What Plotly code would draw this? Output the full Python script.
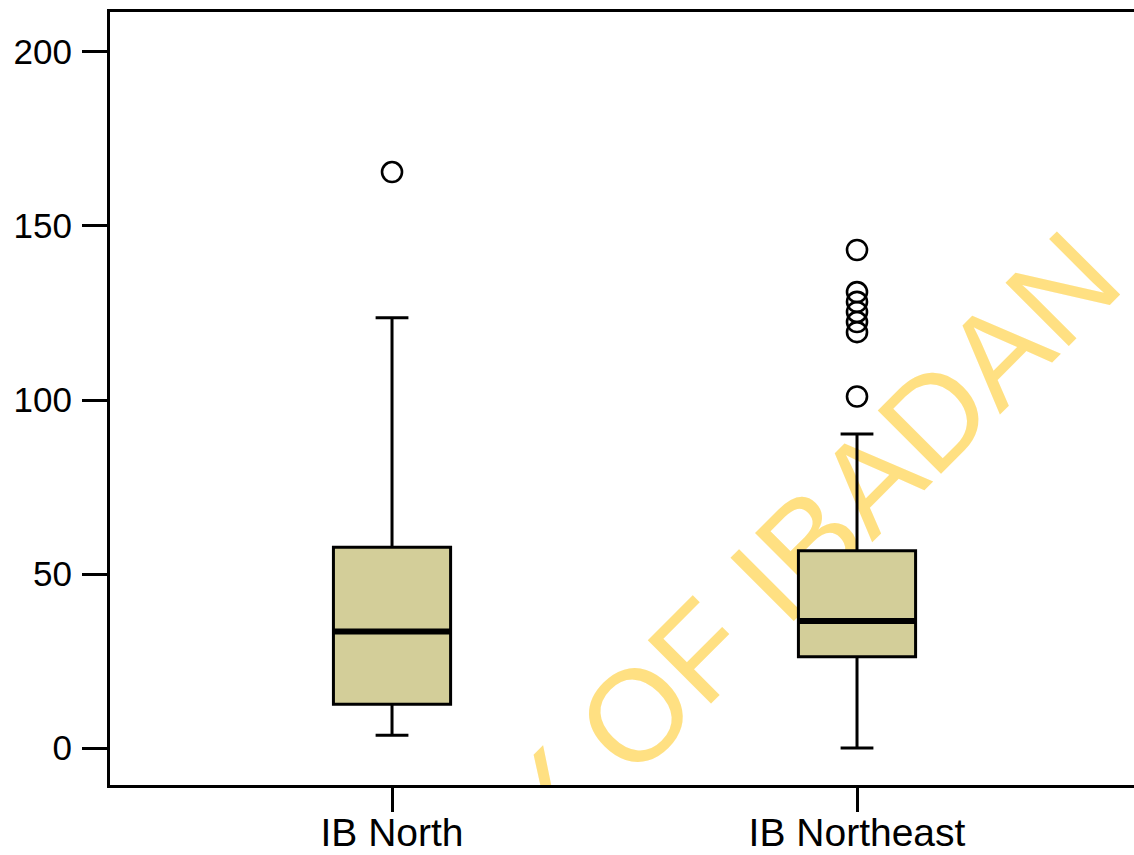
import plotly.graph_objects as go

# ---- data ----
categories = ["IB North", "IB Northeast"]
lower_whisker = [3.7, 0.0]
q1_values = [12.6, 26.2]
median_values = [33.5, 36.5]
q3_values = [57.7, 56.7]
upper_whisker = [123.6, 90.2]
outliers_north = [165.5]
outliers_northeast = [143.1, 131.0, 128.2, 125.3, 122.4, 119.5, 101.0]
y_ticks = [0, 50, 100, 150, 200]
watermark_text = "UNIVERSITY OF IBADAN"

BOX_FILL = "#D3CE99"
WM_COLOR = "#FFE082"
BOX_WIDTH = 0.252

fig = go.Figure()

fig.add_trace(go.Box(
    x=categories,
    q1=q1_values,
    median=median_values,
    q3=q3_values,
    lowerfence=lower_whisker,
    upperfence=upper_whisker,
    fillcolor=BOX_FILL,
    line=dict(color="black", width=3),
    width=BOX_WIDTH,
    whiskerwidth=0.28,
    boxpoints=False,
    hoverinfo="skip",
    showlegend=False,
))

out_x = [categories[0]] * len(outliers_north) + [categories[1]] * len(outliers_northeast)
out_y = outliers_north + outliers_northeast
fig.add_trace(go.Scatter(
    x=out_x,
    y=out_y,
    mode="markers",
    marker=dict(symbol="circle-open", size=20, color="black", line=dict(width=2.6, color="black")),
    showlegend=False,
    hoverinfo="skip",
))

shapes = []
# watermark (below traces, clipped to plot area)
WM_X, WM_Y = 0.3435, -9.86
shapes.append(dict(
    type="rect", xref="x", yref="y", layer="below",
    x0=WM_X - 0.05, x1=WM_X + 0.05, y0=WM_Y - 0.5, y1=WM_Y + 0.5,
    line=dict(width=0), fillcolor="rgba(0,0,0,0)",
    label=dict(text=watermark_text, textangle=-45, textposition="middle center",
               font=dict(family="Liberation Sans, Arial, sans-serif",
                         size=130, color=WM_COLOR)),
))
# thick median lines
for i, m in enumerate(median_values):
    shapes.append(dict(
        type="line", xref="x", yref="y", layer="above",
        x0=i - BOX_WIDTH / 2, x1=i + BOX_WIDTH / 2, y0=m, y1=m,
        line=dict(color="black", width=6),
    ))

fig.update_layout(
    width=1134, height=855,
    margin=dict(l=110, r=0, t=12, b=70, pad=0, autoexpand=False),
    paper_bgcolor="white", plot_bgcolor="white",
    font=dict(family="Liberation Sans, Arial, sans-serif", color="black"),
    shapes=shapes,
    showlegend=False,
)

fig.update_xaxes(
    type="category", range=[-0.6065, 1.5957], automargin=False,
    showline=True, linewidth=3, linecolor="black", mirror=True,
    ticks="outside", ticklen=24, tickwidth=3, tickcolor="black",
    tickfont=dict(size=39, color="black"), ticklabelstandoff=-13,
    showgrid=False, zeroline=False,
)
fig.update_yaxes(
    range=[-10.63, 211.49], tickvals=y_ticks, ticktext=[str(v) for v in y_ticks],
    automargin=False,
    showline=True, linewidth=3, linecolor="black", mirror=False,
    ticks="outside", ticklen=25, tickwidth=3, tickcolor="black",
    tickfont=dict(size=35, color="black"), ticklabelstandoff=3,
    showgrid=False, zeroline=False,
)

fig.write_html(
    "out.html",
    config={"displayModeBar": False},
    post_script="document.body.style.margin='0';document.body.style.overflow='hidden';",
)
